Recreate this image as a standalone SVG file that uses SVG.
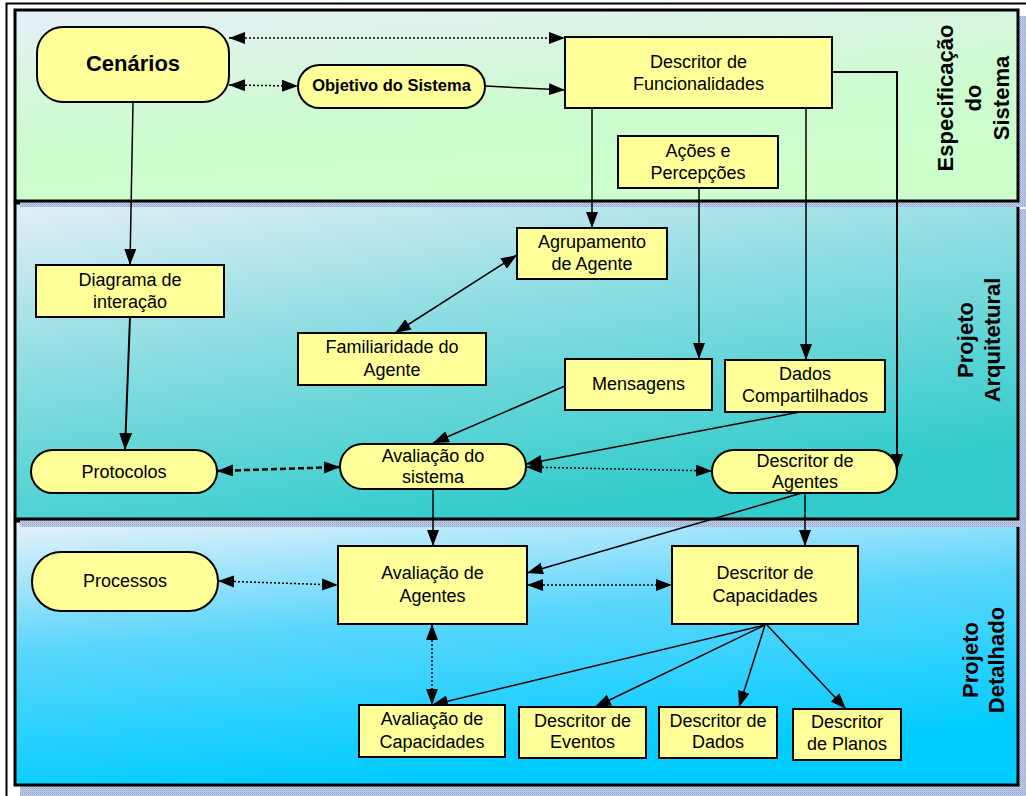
<svg xmlns="http://www.w3.org/2000/svg" width="1026" height="796" viewBox="0 0 1026 796">
<defs>
  <linearGradient id="g1" x1="0" y1="0" x2="0.35" y2="1">
    <stop offset="0" stop-color="#e6eef7"/>
    <stop offset="0.6" stop-color="#cdfbcf"/>
    <stop offset="1" stop-color="#ccffcc"/>
  </linearGradient>
  <linearGradient id="g2" x1="0" y1="0" x2="0.45" y2="1">
    <stop offset="0" stop-color="#e4eef6"/>
    <stop offset="0.45" stop-color="#8cdde2"/>
    <stop offset="1" stop-color="#33cccc"/>
  </linearGradient>
  <linearGradient id="g3" x1="0" y1="0" x2="0.3" y2="1">
    <stop offset="0" stop-color="#e8f2fb"/>
    <stop offset="0.45" stop-color="#5cd6fb"/>
    <stop offset="1" stop-color="#00ccff"/>
  </linearGradient>
  <pattern id="sh" width="2" height="2" patternUnits="userSpaceOnUse">
    <rect width="2" height="2" fill="#c4cfe8"/>
    <rect width="1" height="1" fill="#8fa3d2"/>
    <rect x="1" y="1" width="1" height="1" fill="#a9b8de"/>
  </pattern>
  <marker id="a" markerUnits="userSpaceOnUse" markerWidth="17" markerHeight="13" refX="16" refY="6" orient="auto-start-reverse">
    <path d="M0,0 L16,6 L0,12 z" fill="#000"/>
  </marker>
  <marker id="ab" markerUnits="userSpaceOnUse" markerWidth="18" markerHeight="14" refX="17" refY="6.5" orient="auto-start-reverse">
    <path d="M0,0 L17,6.5 L0,13 z" fill="#000"/>
  </marker>
</defs>
<style>
  .pn{stroke:#000;stroke-width:3}
  .nd{fill:#ffff99;stroke:#000;stroke-width:2}
  .t{font-family:"Liberation Sans",Arial,sans-serif;font-size:18px;fill:#000;text-anchor:middle}
  .tb{font-family:"Liberation Sans",Arial,sans-serif;font-weight:bold;fill:#000;text-anchor:middle}
  .side{font-family:"Liberation Sans",Arial,sans-serif;font-weight:bold;font-size:22px;fill:#000;text-anchor:middle}
  .ln{stroke:#000;stroke-width:1.5;fill:none}
  .dot{stroke-dasharray:2 2}
  .dash{stroke-dasharray:6 3;stroke-width:2.5}
</style>
<rect x="0" y="0" width="1026" height="796" fill="#fff"/>
<rect x="6.5" y="3.5" width="1040" height="810" fill="#fff" stroke="#000" stroke-width="2"/>

<g id="panels">
  <g id="panel3">
    <rect x="20" y="527" width="1010" height="269" fill="url(#sh)"/>
    <rect class="pn" x="15" y="521" width="1003" height="264" fill="url(#g3)"/>
  </g>
  <g id="panel2">
    <rect x="20" y="209" width="1010" height="318" fill="url(#sh)"/>
    <rect class="pn" x="15" y="203" width="1003" height="316" fill="url(#g2)"/>
  </g>
  <g id="panel1">
    <rect x="20" y="16" width="1010" height="191" fill="url(#sh)"/>
    <rect class="pn" x="15" y="10" width="1003" height="191" fill="url(#g1)"/>
  </g>
  <text class="side" transform="translate(953,98) rotate(-90)"><tspan x="0" y="0">Especificação</tspan><tspan x="0" y="28">do</tspan><tspan x="0" y="56">Sistema</tspan></text>
  <text class="side" transform="translate(973,340) rotate(-90)"><tspan x="0" y="0">Projeto</tspan><tspan x="0" y="27">Arquitetural</tspan></text>
  <text class="side" transform="translate(978,660) rotate(-90)"><tspan x="0" y="0">Projeto</tspan><tspan x="0" y="26">Detalhado</tspan></text>
</g>

<g id="connectors">
  <path class="ln dot" d="M229,38 H565" marker-start="url(#a)" marker-end="url(#a)"/>
  <path class="ln dot" d="M229,85 L298,86" marker-start="url(#a)" marker-end="url(#a)"/>
  <path class="ln" d="M485,86 L565,90" marker-end="url(#a)"/>
  <path class="ln" style="stroke-width:2" d="M832,72 H897 V470" marker-end="url(#a)"/>
  <path class="ln" d="M592,108 V228" marker-end="url(#a)"/>
  <path class="ln" d="M806,108 V360" marker-end="url(#a)"/>
  <path class="ln" d="M699,188 V359" marker-end="url(#a)"/>
  <path class="ln" d="M133,102 L130,265" marker-end="url(#a)"/>
  <path class="ln" style="stroke-width:2" d="M130,317 L125,450" marker-end="url(#ab)"/>
  <path class="ln" d="M395,333 L517,255" marker-start="url(#a)" marker-end="url(#a)"/>
  <path class="ln" d="M565,386 L433,443" marker-end="url(#a)"/>
  <path class="ln" d="M800,412 L526,464" marker-end="url(#a)"/>
  <path class="ln dash" d="M217,471 L340,467" marker-start="url(#a)" marker-end="url(#a)"/>
  <path class="ln dot" d="M526,467 L712,471" marker-start="url(#a)" marker-end="url(#a)"/>
  <path class="ln" d="M433,489 V546" marker-end="url(#a)"/>
  <path class="ln" d="M802,493 L527,573" marker-end="url(#a)"/>
  <path class="ln" d="M805,493 V546" marker-end="url(#a)"/>
  <path class="ln dot" d="M218,581 L338,585" marker-start="url(#a)" marker-end="url(#a)"/>
  <path class="ln dot" d="M527,585 H672" marker-start="url(#a)" marker-end="url(#a)"/>
  <path class="ln dot" d="M432,624 V705" marker-start="url(#a)" marker-end="url(#a)"/>
  <path class="ln" d="M765,625 L432,705" marker-end="url(#a)"/>
  <path class="ln" d="M765,625 L595,707" marker-end="url(#a)"/>
  <path class="ln" d="M765,625 L739,707" marker-end="url(#a)"/>
  <path class="ln" d="M767,625 L846,709" marker-end="url(#a)"/>
</g>

<g id="cenarios"><rect class="nd" x="37" y="27" width="192" height="75" rx="26"/><text class="tb" style="font-size:22px" x="133" y="71">Cenários</text></g>
<g id="objetivo"><rect class="nd" x="298" y="65" width="187" height="43" rx="21.5"/><text class="tb" style="font-size:16.5px" x="391.5" y="91">Objetivo do Sistema</text></g>
<g id="descFunc"><rect class="nd" x="565" y="37" width="267" height="71"/><text class="t" x="698.5" y="68">Descritor de</text><text class="t" x="698.5" y="90">Funcionalidades</text></g>
<g id="acoes"><rect class="nd" x="618" y="136" width="160" height="52"/><text class="t" x="698" y="157">Ações e</text><text class="t" x="698" y="179">Percepções</text></g>
<g id="agrupamento"><rect class="nd" x="517" y="228" width="150" height="51"/><text class="t" x="592" y="248">Agrupamento</text><text class="t" x="592" y="270">de Agente</text></g>
<g id="diagrama"><rect class="nd" x="36" y="265" width="188" height="52"/><text class="t" x="130" y="286">Diagrama de</text><text class="t" x="130" y="308">interação</text></g>
<g id="familiaridade"><rect class="nd" x="298" y="333" width="188" height="52"/><text class="t" x="392" y="353">Familiaridade do</text><text class="t" x="392" y="376">Agente</text></g>
<g id="mensagens"><rect class="nd" x="565" y="359" width="147" height="51"/><text class="t" x="638.5" y="390">Mensagens</text></g>
<g id="dados"><rect class="nd" x="725" y="360" width="160" height="52"/><text class="t" x="805" y="380">Dados</text><text class="t" x="805" y="402">Compartilhados</text></g>
<g id="protocolos"><rect class="nd" x="31" y="450" width="186" height="43" rx="21.5"/><text class="t" x="124" y="478">Protocolos</text></g>
<g id="avalSistema"><rect class="nd" x="340" y="444" width="186" height="45" rx="22.5"/><text class="t" x="433" y="462">Avaliação do</text><text class="t" x="433" y="483">sistema</text></g>
<g id="descAgentes"><rect class="nd" x="712" y="450" width="185" height="43" rx="21.5"/><text class="t" x="805" y="467">Descritor de</text><text class="t" x="805" y="488">Agentes</text></g>
<g id="processos"><rect class="nd" x="32" y="552" width="186" height="59" rx="29"/><text class="t" x="125" y="587">Processos</text></g>
<g id="avalAgentes"><rect class="nd" x="338" y="546" width="189" height="78"/><text class="t" x="432.5" y="579">Avaliação de</text><text class="t" x="432.5" y="602">Agentes</text></g>
<g id="descCap"><rect class="nd" x="672" y="546" width="186" height="78"/><text class="t" x="765" y="579">Descritor de</text><text class="t" x="765" y="602">Capacidades</text></g>
<g id="avalCap"><rect class="nd" x="359" y="705" width="146" height="52"/><text class="t" x="432" y="725">Avaliação de</text><text class="t" x="432" y="748">Capacidades</text></g>
<g id="descEventos"><rect class="nd" x="519" y="707" width="127" height="51"/><text class="t" x="582.5" y="727">Descritor de</text><text class="t" x="582.5" y="748">Eventos</text></g>
<g id="descDados"><rect class="nd" x="659" y="707" width="118" height="51"/><text class="t" x="718" y="727">Descritor de</text><text class="t" x="718" y="748">Dados</text></g>
<g id="descPlanos"><rect class="nd" x="793" y="709" width="108" height="51"/><text class="t" x="847" y="728">Descritor</text><text class="t" x="847" y="750">de Planos</text></g>
</svg>
